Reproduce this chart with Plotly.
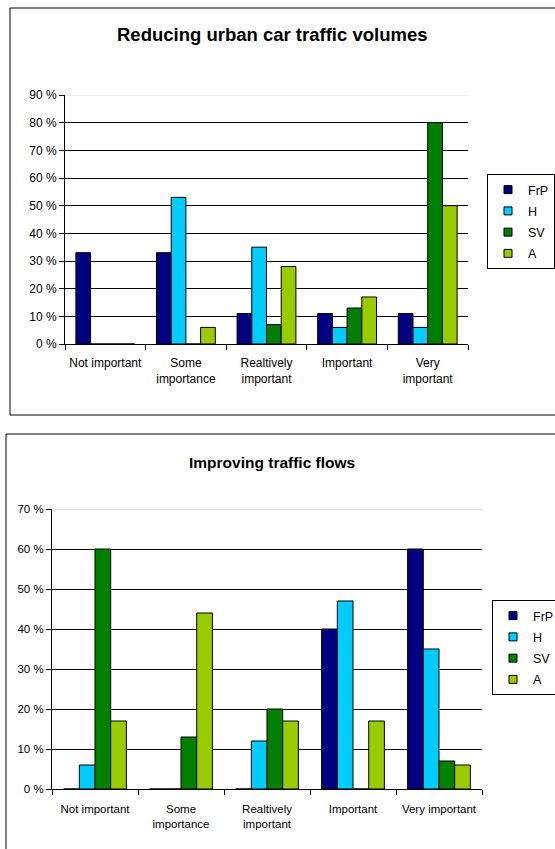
import plotly.graph_objects as go

W, H = 555, 849

categories_top = ["Not important", "Some<br>importance", "Realtively<br>important", "Important", "Very<br>important"]
categories_bot = ["Not important", "Some<br>importance", "Realtively<br>important", "Important", "Very important"]
series = ["FrP", "H", "SV", "A"]
colors = ["#000080", "#00CCFF", "#008000", "#99CC00"]

top_FrP = [33, 33, 11, 11, 11]
top_H = [0, 53, 35, 6, 6]
top_SV = [0, 0, 7, 13, 80]
top_A = [0, 6, 28, 17, 50]

bot_FrP = [0, 0, 0, 40, 60]
bot_H = [6, 0, 12, 47, 35]
bot_SV = [60, 13, 20, 0, 7]
bot_A = [17, 44, 17, 17, 6]

top_ticks = [0, 10, 20, 30, 40, 50, 60, 70, 80, 90]
bot_ticks = [0, 10, 20, 30, 40, 50, 60, 70]

top_title = "Reducing urban car traffic volumes"
bot_title = "Improving traffic flows"

FONT = "Liberation Sans, Arial, sans-serif"

fig = go.Figure()

def px(x):
    return x / W

def py(y):
    return 1 - y / H

top_vals = [top_FrP, top_H, top_SV, top_A]
bot_vals = [bot_FrP, bot_H, bot_SV, bot_A]

for name, col, vals in zip(series, colors, top_vals):
    fig.add_trace(go.Bar(x=categories_top, y=vals, name=name, marker=dict(color=col, line=dict(color="black", width=1)),
                         xaxis="x", yaxis="y", showlegend=False))
for name, col, vals in zip(series, colors, bot_vals):
    fig.add_trace(go.Bar(x=categories_bot, y=vals, name=name, marker=dict(color=col, line=dict(color="black", width=1)),
                         xaxis="x2", yaxis="y2", showlegend=False))
# legend entries
for i, (name, col) in enumerate(zip(series, colors)):
    fig.add_trace(go.Scatter(x=[None], y=[None], mode="markers", name=name, legend="legend", legendgroup="t" + name,
                             marker=dict(symbol="square", size=8, color=col, line=dict(color="black", width=1)),
                             xaxis="x", yaxis="y"))
    fig.add_trace(go.Scatter(x=[None], y=[None], mode="markers", name=name, legend="legend2", legendgroup="b" + name,
                             marker=dict(symbol="square", size=8, color=col, line=dict(color="black", width=1)),
                             xaxis="x2", yaxis="y2"))

def axis_common(size):
    return dict(showline=True, linecolor="black", linewidth=1, ticks="outside", ticklen=5, tickcolor="black",
                tickfont=dict(family=FONT, size=size, color="black"))

fig.update_layout(
    width=W, height=H,
    margin=dict(l=0, r=0, t=0, b=0, autoexpand=False),
    paper_bgcolor="white", plot_bgcolor="white",
    barmode="group", bargap=0.27, bargroupgap=0,
    font=dict(family=FONT, color="black"),
    xaxis=dict(domain=[px(65), px(468)], anchor="y", tickson="boundaries", tickangle=0, ticklabelstandoff=8,
               **axis_common(12)),
    yaxis=dict(domain=[py(344), py(95)], anchor="x", range=[0, 90], tickvals=top_ticks,
               ticktext=[f"{v} %" for v in top_ticks], showgrid=True, gridcolor="black", gridwidth=1,
               zeroline=False, **axis_common(12)),
    xaxis2=dict(domain=[px(52), px(482)], anchor="y2", tickson="boundaries", tickangle=0, ticklabelstandoff=9,
                **axis_common(11.5)),
    yaxis2=dict(domain=[py(789), py(509)], anchor="x2", range=[0, 70], tickvals=bot_ticks,
                ticktext=[f"{v} %" for v in bot_ticks], showgrid=True, gridcolor="black", gridwidth=1,
                zeroline=False, **axis_common(11.5)),
    legend=dict(x=px(487), y=py(174), xanchor="left", yanchor="top", bordercolor="black", borderwidth=1,
                font=dict(family=FONT, size=12.5, color="black"), tracegroupgap=2, bgcolor="white",
                entrywidth=80),
    legend2=dict(x=px(492), y=py(600), xanchor="left", yanchor="top", bordercolor="black", borderwidth=1,
                 font=dict(family=FONT, size=12.5, color="black"), tracegroupgap=2, bgcolor="white",
                 entrywidth=80),
    annotations=[
        dict(text=f"<b>{top_title}</b>", x=px(272), y=py(35), xref="paper", yref="paper", showarrow=False,
             xanchor="center", yanchor="middle", font=dict(family=FONT, size=18.5, color="black")),
        dict(text=f"<b>{bot_title}</b>", x=px(272), y=py(462), xref="paper", yref="paper", showarrow=False,
             xanchor="center", yanchor="middle", font=dict(family=FONT, size=15.5, color="black")),
    ],
    shapes=[
        dict(type="rect", xref="paper", yref="paper", x0=px(10), x1=1.05, y0=py(415), y1=py(8),
             line=dict(color="black", width=1)),
        dict(type="rect", xref="paper", yref="paper", x0=px(6), x1=1.05, y0=-0.05, y1=py(434),
             line=dict(color="black", width=1)),
        dict(type="line", xref="x domain", yref="y", x0=0, x1=1, y0=90, y1=90, line=dict(color="#dddddd", width=1)),
        dict(type="line", xref="x2 domain", yref="y2", x0=0, x1=1, y0=70, y1=70, line=dict(color="#c0c0c0", width=1)),
    ],
)

fig.write_html("out.html")
